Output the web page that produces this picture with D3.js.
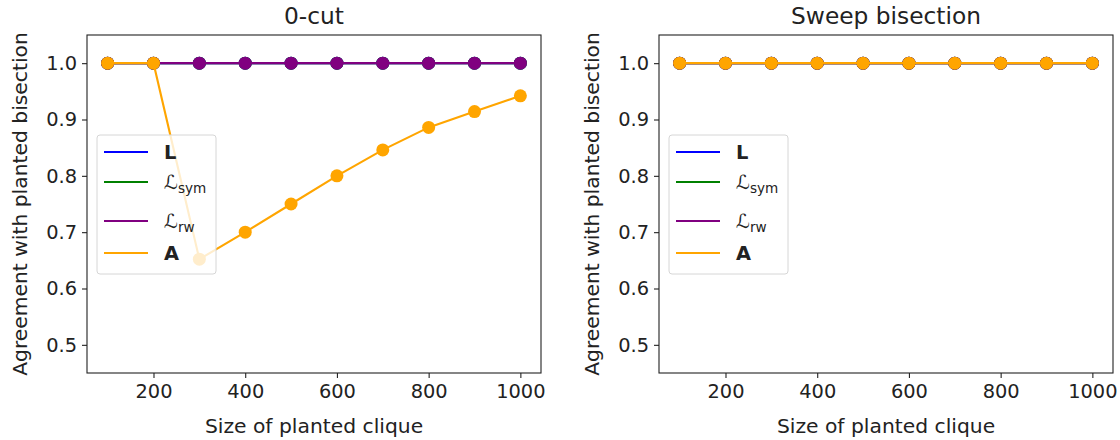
<!DOCTYPE html>
<html>
<head>
<meta charset="utf-8">
<script src="https://cdn.jsdelivr.net/npm/d3@7"></script>
<style>
  body { margin: 0; background: #fff; }
  text { font-family: "DejaVu Sans", sans-serif; fill: #222; }
</style>
</head>
<body>
<div id="chart"></div>
<script>
// data
var cliqueSizes = [100, 200, 300, 400, 500, 600, 700, 800, 900, 1000]
var xTicks = [200, 400, 600, 800, 1000]
var yTicks = [0.5, 0.6, 0.7, 0.8, 0.9, 1.0]

var zeroCutL    = [1, 1, 1, 1, 1, 1, 1, 1, 1, 1]
var zeroCutLsym = [1, 1, 1, 1, 1, 1, 1, 1, 1, 1]
var zeroCutLrw  = [1, 1, 1, 1, 1, 1, 1, 1, 1, 1]
var zeroCutA    = [1, 1, 0.652, 0.70, 0.75, 0.80, 0.846, 0.886, 0.914, 0.942]

var sweepL    = [1, 1, 1, 1, 1, 1, 1, 1, 1, 1]
var sweepLsym = [1, 1, 1, 1, 1, 1, 1, 1, 1, 1]
var sweepLrw  = [1, 1, 1, 1, 1, 1, 1, 1, 1, 1]
var sweepA    = [1, 1, 1, 1, 1, 1, 1, 1, 1, 1]

var seriesKeys = ["L", "Lsym", "Lrw", "A"]
var seriesColors = ["blue", "green", "purple", "orange"]

var panels = [
  { title: "0-cut", left: 87, values: [zeroCutL, zeroCutLsym, zeroCutLrw, zeroCutA] },
  { title: "Sweep bisection", left: 659, values: [sweepL, sweepLsym, sweepLrw, sweepA] }
]

var width = 1120
var height = 440
var marginTop = 35
var w = 454
var h = 338
var fs = 19.4

var svg = d3.select("#chart").append("svg")
  .attr("width", width)
  .attr("height", height)

var x = d3.scaleLinear().domain([55, 1045]).range([0, w])
var y = d3.scaleLinear().domain([0.45, 1.05]).range([h, 0])

function drawPanel(p) {
  var g = svg.append("g").attr("transform", "translate(" + p.left + "," + marginTop + ")")

  // series: line then markers, in plot order
  p.values.forEach(function (vals, i) {
    var pts = cliqueSizes.map(function (c, j) { return [c, vals[j]] })
    var line = d3.line().x(function (d) { return x(d[0]) }).y(function (d) { return y(d[1]) })
    g.append("path")
      .attr("d", line(pts))
      .attr("fill", "none")
      .attr("stroke", seriesColors[i])
      .attr("stroke-width", 2.1)
    g.selectAll(null).data(pts).enter().append("circle")
      .attr("cx", function (d) { return x(d[0]) })
      .attr("cy", function (d) { return y(d[1]) })
      .attr("r", 6.5)
      .attr("fill", seriesColors[i])
  })

  // axes
  var xAxis = g.append("g")
    .attr("transform", "translate(0," + h + ")")
    .call(d3.axisBottom(x).tickValues(xTicks).tickFormat(d3.format("d")).tickSize(5).tickPadding(6).tickSizeOuter(0))
  var yAxis = g.append("g")
    .call(d3.axisLeft(y).tickValues(yTicks).tickFormat(d3.format(".1f")).tickSize(5).tickPadding(5).tickSizeOuter(0))
  ;[xAxis, yAxis].forEach(function (a) {
    a.select(".domain").remove()
    a.selectAll("line").attr("stroke", "#222").attr("stroke-width", 1.1)
    a.selectAll("text").style("font-family", "DejaVu Sans").style("font-size", fs + "px").attr("fill", "#222")
  })

  g.append("rect")
    .attr("x", 0).attr("y", 0).attr("width", w).attr("height", h)
    .attr("fill", "none").attr("stroke", "#222").attr("stroke-width", 1.1)

  // titles
  g.append("text")
    .attr("x", w / 2).attr("y", -11)
    .attr("text-anchor", "middle")
    .style("font-size", "23.3px")
    .text(p.title)
  g.append("text")
    .attr("x", w / 2).attr("y", h + 60)
    .attr("text-anchor", "middle")
    .style("font-size", "20.3px")
    .text("Size of planted clique")
  g.append("text")
    .attr("transform", "translate(-60," + (h / 2) + ") rotate(-90)")
    .attr("text-anchor", "middle")
    .style("font-size", "20.3px")
    .text("Agreement with planted bisection")

  // legend
  var lg = g.append("g").attr("transform", "translate(10,100)")
  lg.append("rect")
    .attr("width", 119).attr("height", 139)
    .attr("rx", 3)
    .attr("fill", "white").attr("fill-opacity", 0.8)
    .attr("stroke", "#d6d6d6").attr("stroke-width", 1)
  var rowY = [17, 47, 86, 118]
  seriesKeys.forEach(function (k, i) {
    lg.append("line")
      .attr("x1", 7).attr("x2", 51)
      .attr("y1", rowY[i]).attr("y2", rowY[i])
      .attr("stroke", seriesColors[i]).attr("stroke-width", 2.1)
    var t = lg.append("text")
      .attr("x", 67).attr("y", rowY[i] + 7)
      .style("font-size", fs + "px")
    if (k === "L" || k === "A") {
      t.style("font-weight", "bold").attr("fill", "#000").text(k)
    } else {
      t.append("tspan").text("\u2112")
      t.append("tspan").attr("dy", 4).style("font-size", "13.6px").text(k === "Lsym" ? "sym" : "rw")
    }
  })
}

panels.forEach(drawPanel)
</script>
</body>
</html>
